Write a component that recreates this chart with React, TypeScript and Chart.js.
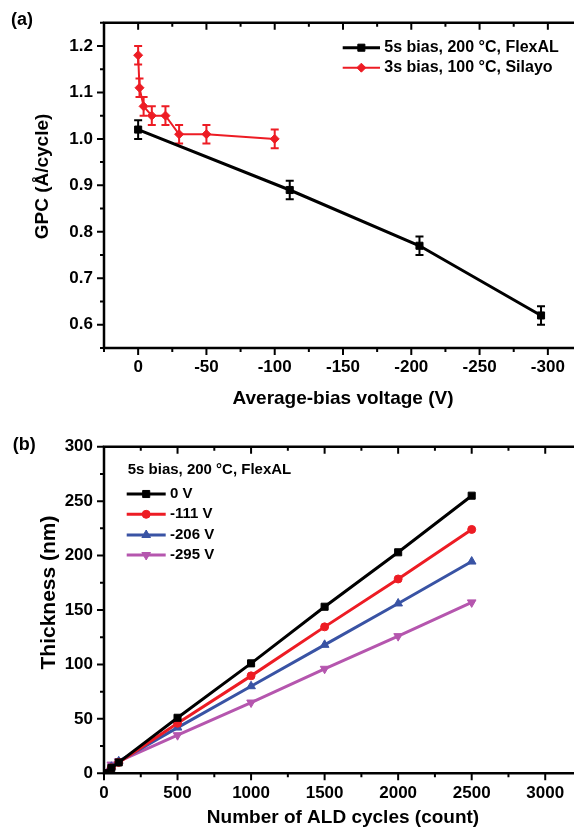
import React, { useEffect, useRef } from "react";
import { Chart, registerables } from "chart.js";
import { drawPoint } from "chart.js/helpers";

Chart.register(...registerables);

const FONT = "'Liberation Sans', Arial, Helvetica, sans-serif";

// ---------- Panel (a) data ----------
const biasFlexAL = [0, -111, -206, -295];
const gpcFlexAL = [1.02, 0.89, 0.77, 0.62];
const errFlexAL = [0.02, 0.02, 0.02, 0.02];

const biasSilayo = [0, -1, -4, -10, -20, -30, -50, -100];
const gpcSilayo = [1.18, 1.11, 1.07, 1.05, 1.05, 1.01, 1.01, 1.0];
const errSilayo = [0.02, 0.02, 0.02, 0.02, 0.02, 0.02, 0.02, 0.02];

const xTicksA = [0, -50, -100, -150, -200, -250, -300];
const yTicksA = [0.6, 0.7, 0.8, 0.9, 1.0, 1.1, 1.2];

// ---------- Panel (b) data ----------
const cycles = [0, 50, 100, 500, 1000, 1500, 2000, 2500];
const thick0V = [0, 5, 10, 51, 101, 153, 203, 255];
const thick111V = [0, 5, 10, 46, 89.5, 134.5, 178.5, 224];
const thick206V = [0, 6, 11, 42, 80, 118, 156, 194.5];
const thick295V = [0, 8, 11, 35, 65, 96, 126, 157];

const xTicksB = [0, 500, 1000, 1500, 2000, 2500, 3000];
const yTicksB = [0, 50, 100, 150, 200, 250, 300];

const RED = "#ed1c24";
const BLUE = "#3953a4";
const MAGENTA = "#b556ae";

const pts = (xs: number[], ys: number[]) => xs.map((x, i) => ({ x, y: ys[i] }));

function minorVals(min: number, max: number, step: number) {
  const half = step / 2;
  const out: number[] = [];
  const k0 = Math.ceil(Math.min(min, max) / half - 1e-9);
  const k1 = Math.floor(Math.max(min, max) / half + 1e-9);
  for (let k = k0; k <= k1; k++) if (Math.abs(k) % 2 === 1) out.push(k * half);
  return out;
}

const framePlugin = {
  id: "frame",
  afterDraw(chart: any, _args: any, opts: any) {
    const { ctx, chartArea } = chart;
    const { left: L, right: R, top: T, bottom: B } = chartArea;
    const xs = chart.scales.x;
    const ys = chart.scales.y;
    ctx.save();
    ctx.strokeStyle = "#000";
    ctx.lineWidth = 2.5;
    ctx.beginPath();
    ctx.moveTo(L, T - 1.25);
    ctx.lineTo(L, B + 1.25);
    ctx.moveTo(L - 1.25, B);
    ctx.lineTo(R + 30, B);
    ctx.moveTo(L - 1.25, T);
    ctx.lineTo(R + 30, T);
    ctx.stroke();
    ctx.lineWidth = 2;
    ctx.beginPath();
    for (const t of xs.ticks) {
      const p = xs.getPixelForValue(t.value);
      ctx.moveTo(p, B);
      ctx.lineTo(p, B + 7);
      ctx.moveTo(p, T);
      ctx.lineTo(p, T + 7);
    }
    for (const v of minorVals(xs.min, xs.max, opts.xStep)) {
      const p = xs.getPixelForValue(v);
      ctx.moveTo(p, B);
      ctx.lineTo(p, B + 4);
      ctx.moveTo(p, T);
      ctx.lineTo(p, T + 4);
    }
    for (const t of ys.ticks) {
      const p = ys.getPixelForValue(t.value);
      ctx.moveTo(L, p);
      ctx.lineTo(L - 7, p);
    }
    for (const v of minorVals(ys.min, ys.max, opts.yStep)) {
      const p = ys.getPixelForValue(v);
      ctx.moveTo(L, p);
      ctx.lineTo(L - 4, p);
    }
    ctx.stroke();
    ctx.restore();
  },
};

const errorBarPlugin = {
  id: "errorBars",
  beforeDatasetsDraw(chart: any) {
    const { ctx } = chart;
    const ys = chart.scales.y;
    chart.data.datasets.forEach((ds: any, i: number) => {
      if (!ds.errors) return;
      const meta = chart.getDatasetMeta(i);
      ctx.save();
      ctx.strokeStyle = ds.borderColor;
      ctx.lineWidth = 2;
      ctx.beginPath();
      meta.data.forEach((el: any, j: number) => {
        const v = ds.data[j].y;
        const e = ds.errors[j];
        const y1 = ys.getPixelForValue(v + e);
        const y2 = ys.getPixelForValue(v - e);
        ctx.moveTo(el.x, y1);
        ctx.lineTo(el.x, y2);
        ctx.moveTo(el.x - 4, y1);
        ctx.lineTo(el.x + 4, y1);
        ctx.moveTo(el.x - 4, y2);
        ctx.lineTo(el.x + 4, y2);
      });
      ctx.stroke();
      ctx.restore();
    });
  },
};

const textPlugin = {
  id: "extraText",
  afterDraw(chart: any, _args: any, opts: any) {
    const { ctx } = chart;
    ctx.save();
    ctx.fillStyle = "#000";
    for (const t of opts.items || []) {
      ctx.save();
      ctx.font = `bold ${t.size}px ${FONT}`;
      ctx.textBaseline = "middle";
      ctx.textAlign = t.align || "left";
      ctx.translate(t.x, t.y);
      if (t.rotate) ctx.rotate(t.rotate);
      ctx.fillText(t.text, 0, 0);
      ctx.restore();
    }
    ctx.restore();
  },
};

const legendPlugin = {
  id: "insideLegend",
  afterDraw(chart: any, _args: any, opts: any) {
    const { ctx } = chart;
    ctx.save();
    chart.data.datasets.forEach((ds: any, i: number) => {
      const y = opts.rows[i];
      ctx.strokeStyle = ds.borderColor;
      ctx.lineWidth = ds.borderWidth;
      ctx.beginPath();
      ctx.moveTo(opts.x0, y);
      ctx.lineTo(opts.x1, y);
      ctx.stroke();
      ctx.fillStyle = ds.pointBackgroundColor;
      ctx.strokeStyle = ds.pointBorderColor;
      ctx.lineWidth = 1;
      drawPoint(ctx, {
        pointStyle: ds.pointStyle,
        rotation: ds.pointRotation || 0,
        radius: ds.pointRadius,
        borderWidth: 1,
      } as any, (opts.x0 + opts.x1) / 2, y);
      ctx.fillStyle = "#000";
      ctx.font = `bold ${opts.size}px ${FONT}`;
      ctx.textBaseline = "middle";
      ctx.textAlign = "left";
      ctx.fillText(ds.label, opts.textX, y);
    });
    ctx.restore();
  },
};

const tickFont = { family: FONT, size: 17, weight: "bold" as const };
const titleFont = { family: FONT, size: 19, weight: "bold" as const };

function configA(): any {
  return {
    type: "line",
    data: {
      datasets: [
        {
          label: "5s bias, 200 °C, FlexAL",
          data: pts(biasFlexAL, gpcFlexAL),
          errors: errFlexAL,
          borderColor: "#000",
          borderWidth: 3,
          pointStyle: "rect",
          pointRadius: 5,
          pointBackgroundColor: "#000",
          pointBorderColor: "#000",
          pointBorderWidth: 1,
          tension: 0,
        },
        {
          label: "3s bias, 100 °C, Silayo",
          data: pts(biasSilayo, gpcSilayo),
          errors: errSilayo,
          borderColor: RED,
          borderWidth: 2,
          pointStyle: "rectRot",
          pointRadius: 4.5,
          pointBackgroundColor: RED,
          pointBorderColor: RED,
          pointBorderWidth: 1,
          tension: 0,
        },
      ],
    },
    options: {
      responsive: false,
      animation: false,
      devicePixelRatio: 1,
      layout: { padding: { top: 22.7, right: 18, bottom: 0, left: 0 } },
      scales: {
        x: {
          type: "linear",
          min: -325,
          max: 25,
          reverse: true,
          afterBuildTicks: (s: any) => {
            s.ticks = xTicksA.map((v) => ({ value: v }));
          },
          afterFit: (s: any) => {
            s.height = 72;
          },
          grid: { display: false, drawTicks: false },
          border: { display: false },
          ticks: {
            padding: 9,
            color: "#000",
            font: tickFont,
            autoSkip: false,
            maxRotation: 0,
            callback: (v: any) => String(v),
          },
          title: {
            display: true,
            text: "Average-bias voltage (V)",
            color: "#000",
            font: titleFont,
            padding: { top: 0, bottom: 10 },
          },
        },
        y: {
          type: "linear",
          min: 0.55,
          max: 1.25,
          afterBuildTicks: (s: any) => {
            s.ticks = yTicksA.map((v) => ({ value: v }));
          },
          afterFit: (s: any) => {
            s.width = 104;
          },
          grid: { display: false, drawTicks: false },
          border: { display: false },
          ticks: {
            padding: 11,
            color: "#000",
            font: tickFont,
            autoSkip: false,
            callback: (v: any) => Number(v).toFixed(1),
          },
        },
      },
      plugins: {
        legend: { display: false },
        tooltip: { enabled: false },
        frame: { xStep: 50, yStep: 0.1 },
        insideLegend: { x0: 342.7, x1: 380, textX: 384.3, rows: [47.7, 67.7], size: 16 },
        extraText: {
          items: [
            { text: "(a)", x: 11, y: 20, size: 18 },
            { text: "GPC (Å/cycle)", x: 43, y: 176.5, size: 19, rotate: -Math.PI / 2, align: "center" },
          ],
        },
      },
    },
    plugins: [errorBarPlugin, framePlugin, legendPlugin, textPlugin],
  };
}

function configB(): any {
  const mk = (label: string, ys: number[], color: string, style: string, radius: number, rot = 0) => ({
    label,
    data: pts(cycles, ys),
    borderColor: color,
    borderWidth: 3,
    pointStyle: style,
    pointRadius: radius,
    pointRotation: rot,
    pointBackgroundColor: color,
    pointBorderColor: color,
    pointBorderWidth: 1,
    tension: 0,
  });
  return {
    type: "line",
    data: {
      datasets: [
        mk("0 V", thick0V, "#000", "rect", 5),
        mk("-111 V", thick111V, RED, "circle", 4),
        mk("-206 V", thick206V, BLUE, "triangle", 5),
        mk("-295 V", thick295V, MAGENTA, "triangle", 5, 180),
      ],
    },
    options: {
      responsive: false,
      animation: false,
      devicePixelRatio: 1,
      layout: { padding: { top: 26.7, right: 18, bottom: 0, left: 0 } },
      scales: {
        x: {
          type: "linear",
          min: 0,
          max: 3250,
          afterBuildTicks: (s: any) => {
            s.ticks = xTicksB.map((v) => ({ value: v }));
          },
          afterFit: (s: any) => {
            s.height = 55.7;
          },
          grid: { display: false, drawTicks: false },
          border: { display: false },
          ticks: {
            padding: 10,
            color: "#000",
            font: tickFont,
            autoSkip: false,
            maxRotation: 0,
            callback: (v: any) => String(v),
          },
          title: {
            display: true,
            text: "Number of ALD cycles (count)",
            color: "#000",
            font: titleFont,
            padding: { top: 0, bottom: 0 },
          },
        },
        y: {
          type: "linear",
          min: 0,
          max: 300,
          afterBuildTicks: (s: any) => {
            s.ticks = yTicksB.map((v) => ({ value: v }));
          },
          afterFit: (s: any) => {
            s.width = 104;
          },
          grid: { display: false, drawTicks: false },
          border: { display: false },
          ticks: {
            padding: 11,
            color: "#000",
            font: tickFont,
            autoSkip: false,
            callback: (v: any) => String(v),
          },
        },
      },
      plugins: {
        legend: { display: false },
        tooltip: { enabled: false },
        frame: { xStep: 500, yStep: 50 },
        insideLegend: { x0: 126.7, x1: 165.7, textX: 170, rows: [74, 94.3, 115, 135], size: 15 },
        extraText: {
          items: [
            { text: "(b)", x: 12.7, y: 25, size: 18 },
            { text: "5s bias, 200 °C, FlexAL", x: 127.7, y: 50, size: 15 },
            { text: "Thickness (nm)", x: 49, y: 172.5, size: 21, rotate: -Math.PI / 2, align: "center" },
          ],
        },
      },
    },
    plugins: [framePlugin, legendPlugin, textPlugin],
  };
}

export default function App() {
  const refA = useRef<HTMLCanvasElement>(null);
  const refB = useRef<HTMLCanvasElement>(null);
  useEffect(() => {
    const a = new Chart(refA.current as HTMLCanvasElement, configA());
    const b = new Chart(refB.current as HTMLCanvasElement, configB());
    return () => {
      a.destroy();
      b.destroy();
    };
  }, []);
  return (
    <div
      style={{
        position: "absolute",
        left: 0,
        top: 0,
        width: 574,
        height: 829,
        overflow: "hidden",
        background: "#fff",
      }}
    >
      <canvas ref={refA} width={600} height={420} style={{ position: "absolute", left: 0, top: 0 }} />
      <canvas ref={refB} width={600} height={409} style={{ position: "absolute", left: 0, top: 420 }} />
    </div>
  );
}
